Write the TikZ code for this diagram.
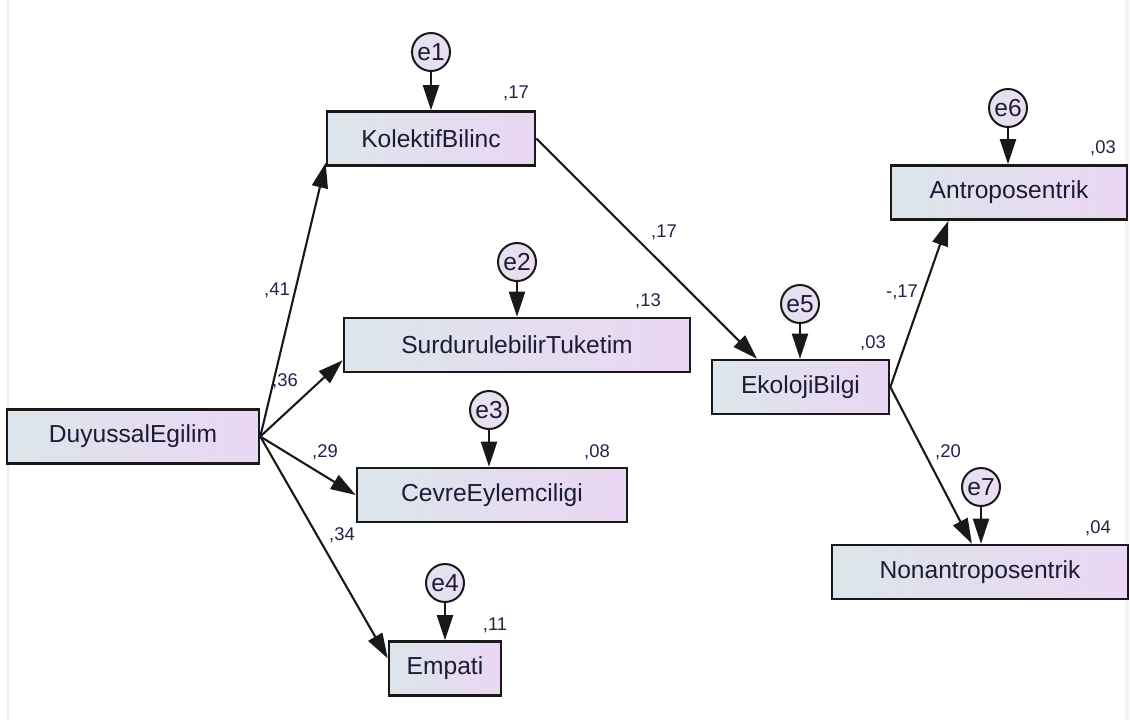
\documentclass[tikz,border=0pt]{standalone}
\usepackage{fontspec}
\setmainfont{Liberation Sans}
\usetikzlibrary{arrows.meta}
\definecolor{boxleft}{HTML}{DCE6EA}
\definecolor{boxright}{HTML}{EBD6F3}
\definecolor{errfill}{HTML}{EBDDF3}
\definecolor{txt}{HTML}{1C1C38}
\definecolor{coef}{HTML}{22224A}
\tikzset{
  var/.style={draw=black!90, line width=1.3pt, left color=boxleft, right color=boxright,
    minimum height=27pt, inner sep=0pt, text=txt, font=\fontsize{12.3pt}{14pt}\selectfont},
  err/.style={circle, draw=black!90, line width=1pt, left color=boxleft!50!errfill, right color=errfill,
    minimum size=19pt, inner sep=0pt, text=txt, font=\fontsize{12.3pt}{14pt}\selectfont},
  coeff/.style={text=coef, inner sep=0pt, font=\fontsize{9.2pt}{10pt}\selectfont},
  reg/.style={-{Triangle[length=12.5pt,width=8pt]}, line width=1.05pt, black!90}
}
\begin{document}
\begin{tikzpicture}[x=0.5pt,y=-0.5pt]
\useasboundingbox (0,0) rectangle (1130,720);
\fill[black!5] (6,0) rectangle (10,720);
\fill[black!5] (1125,0) rectangle (1129,720);

\node[var, minimum width=126pt] (duy) at (133,436.5) {DuyussalEgilim};
\node[var, minimum width=104pt] (kol) at (431,138.5) {KolektifBilinc};
\node[var, minimum width=173pt] (sur) at (517,345) {SurdurulebilirTuketim};
\node[var, minimum width=135pt] (cev) at (492,495) {CevreEylemciligi};
\node[var, minimum width=56pt] (emp) at (445,668.5) {Empati};
\node[var, minimum width=88.5pt] (eko) at (800.5,387) {EkolojiBilgi};
\node[var, minimum width=118pt] (ant) at (1009,192.5) {Antroposentrik};
\node[var, minimum width=148pt] (non) at (980,572) {Nonantroposentrik};

\node[err] (e1) at (431,52) {e1};
\node[err] (e2) at (517,262) {e2};
\node[err] (e3) at (489,410) {e3};
\node[err] (e4) at (445,583) {e4};
\node[err] (e5) at (800,304) {e5};
\node[err] (e6) at (1008,108) {e6};
\node[err] (e7) at (981,487) {e7};

\node[coeff] (r1) at (516,93) {,17};
\node[coeff] (r2) at (648,301) {,13};
\node[coeff] (r3) at (597,452) {,08};
\node[coeff] (r4) at (495,625) {,11};
\node[coeff] (r5) at (873,343) {,03};
\node[coeff] (r6) at (1103,148) {,03};
\node[coeff] (r7) at (1098,528) {,04};

\node[coeff] (b1) at (277,290) {,41};
\node[coeff] (b2) at (285,381) {,36};
\node[coeff] (b3) at (325,452) {,29};
\node[coeff] (b4) at (342,535) {,34};
\node[coeff] (b5) at (664,232) {,17};
\node[coeff] (b6) at (902,292) {-,17};
\node[coeff] (b7) at (948,452) {,20};

\draw[reg] (e1) -- (e1 |- kol.north);
\draw[reg] (e2) -- (e2 |- sur.north);
\draw[reg] (e3) -- (e3 |- cev.north);
\draw[reg] (e4) -- (e4 |- emp.north);
\draw[reg] (e5) -- (e5 |- eko.north);
\draw[reg] (e6) -- (e6 |- ant.north);
\draw[reg] (e7) -- (e7 |- non.north);

\draw[reg] (duy.east) -- (kol.193);
\draw[reg] (duy.east) -- (sur.185);
\draw[reg] (duy.east) -- (cev.west);
\draw[reg] (duy.east) -- (emp.170);
\draw[reg] (kol.east) -- (eko.147);
\draw[reg] (eko.east) -- (ant.205);
\draw[reg] (eko.east) -- (non.106);
\end{tikzpicture}
\end{document}
